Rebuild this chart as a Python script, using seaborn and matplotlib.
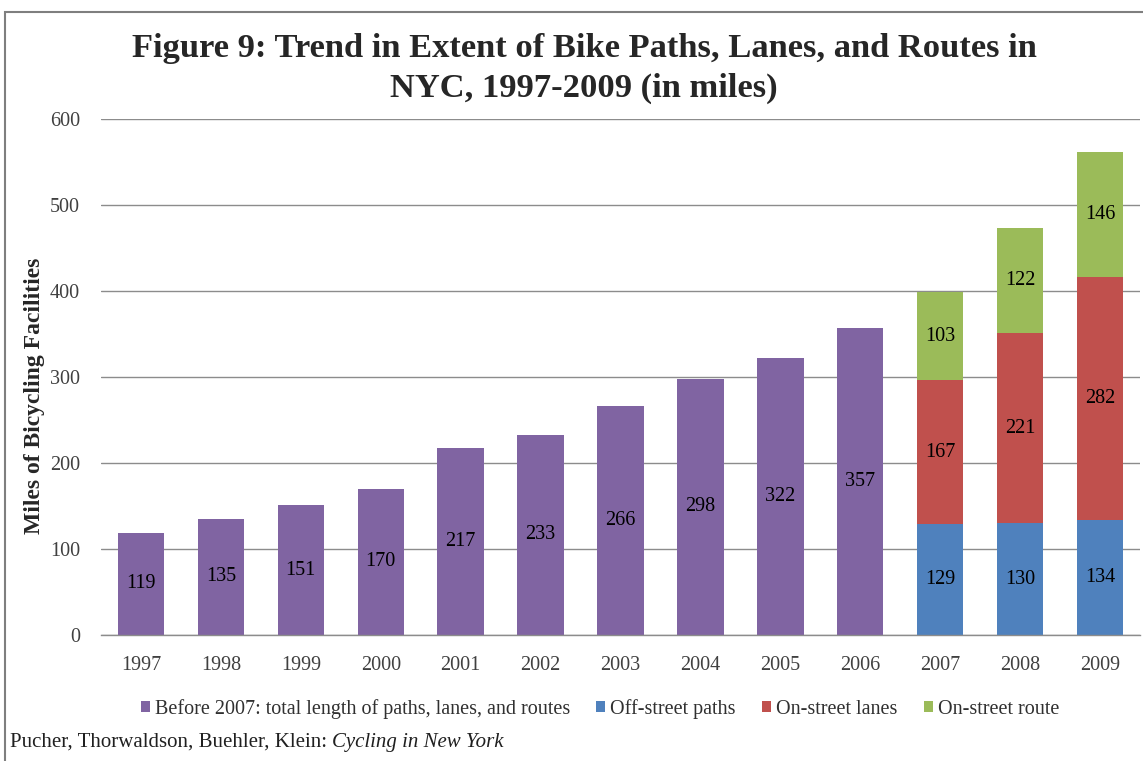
import matplotlib
matplotlib.use("Agg")
import matplotlib.pyplot as plt
import seaborn as sns
import pandas as pd
from matplotlib.patches import Rectangle

years = ["1997", "1998", "1999", "2000", "2001", "2002", "2003", "2004", "2005", "2006", "2007", "2008", "2009"]
before_2007 = [119, 135, 151, 170, 217, 233, 266, 298, 322, 357, None, None, None]
off_street = [None] * 10 + [129, 130, 134]
on_street_lanes = [None] * 10 + [167, 221, 282]
on_street_route = [None] * 10 + [103, 122, 146]

series_names = ["Before 2007: total length of paths, lanes, and routes",
                "Off-street paths", "On-street lanes", "On-street route"]
colors = ["#8064A2", "#4F81BD", "#C0504D", "#9BBB59"]

sns.set_theme(style="white")
plt.rcParams["font.family"] = ["Liberation Serif", "DejaVu Serif"]

fig = plt.figure(figsize=(11.43, 7.61), dpi=100)
W, H = 1143, 761
ax = fig.add_axes([101 / W, 1 - 635 / H, (1140 - 101) / W, (635 - 119) / H])

df = pd.DataFrame({
    "year": years,
    "before": [v if v is not None else 0 for v in before_2007],
    "off": [v if v is not None else 0 for v in off_street],
    "lanes": [v if v is not None else 0 for v in on_street_lanes],
    "route": [v if v is not None else 0 for v in on_street_route],
})
df["b_lanes"] = df["off"]
df["b_route"] = df["off"] + df["lanes"]

w = 0.58
kw = dict(width=w, ax=ax, saturation=1, linewidth=0, edgecolor="none")
sns.barplot(data=df, x="year", y="before", color=colors[0], label=series_names[0], **kw)
sns.barplot(data=df, x="year", y="off", color=colors[1], label=series_names[1], **kw)
sns.barplot(data=df, x="year", y="lanes", color=colors[2], bottom=df["b_lanes"].values,
            label=series_names[2], **kw)
sns.barplot(data=df, x="year", y="route", color=colors[3], bottom=df["b_route"].values,
            label=series_names[3], **kw)

fs = 14.5
# value labels
for i, y in enumerate(years):
    if before_2007[i] is not None:
        ax.text(i, before_2007[i] / 2, str(before_2007[i]), ha="center", va="center",
                fontsize=fs, color="black")
    if off_street[i] is not None:
        b = 0
        for v in (off_street[i], on_street_lanes[i], on_street_route[i]):
            ax.text(i, b + v / 2, str(v), ha="center", va="center", fontsize=fs, color="black")
            b += v

ax.set_ylim(0, 600)
ax.set_xlim(-0.5, len(years) - 0.5)
ax.set_yticks(range(0, 601, 100))
ax.yaxis.grid(True, color="#8c8c8c", linewidth=1)
ax.set_axisbelow(True)
for s in ["top", "right", "left"]:
    ax.spines[s].set_visible(False)
ax.spines["bottom"].set_color("#8c8c8c")
ax.spines["bottom"].set_linewidth(1)
ax.tick_params(axis="y", length=0, labelsize=fs, labelcolor="#404040", pad=15)
ax.tick_params(axis="x", length=0, labelsize=fs, labelcolor="#404040", pad=15)
ax.set_xlabel("")
ax.set_ylabel("")
fig.text(35 / W, 1 - 396 / H, "Miles of Bicycling Facilities", rotation=90,
         ha="center", va="center", fontsize=17, fontweight="bold")

leg = ax.legend(loc="center", bbox_to_anchor=(600 / W, 1 - 709 / H), bbox_transform=fig.transFigure,
                ncol=4, frameon=False, fontsize=fs, handlelength=0.45, handleheight=0.45,
                handletextpad=0.25, columnspacing=1.3, labelcolor="#303030")

fig.text(584 / W, 1 - 48 / H, "Figure 9: Trend in Extent of Bike Paths, Lanes, and Routes in",
         ha="center", va="center", fontsize=24.8, fontweight="bold")
fig.text(584 / W, 1 - 88 / H, "NYC, 1997-2009 (in miles)",
         ha="center", va="center", fontsize=24.8, fontweight="bold")

t1 = fig.text(10 / W, 1 - 742 / H, "Pucher, Thorwaldson, Buehler, Klein: ", ha="left", va="center",
              fontsize=15, color="#202020")
fig.canvas.draw()
bb = t1.get_window_extent()
fig.text(bb.x1 / W, 1 - 742 / H, "Cycling in New York", ha="left", va="center",
         fontsize=15, style="italic", color="#202020")

# chart frame
fig.add_artist(Rectangle((5 / W, -0.1), 1.2, 1 - 12 / H + 0.1, transform=fig.transFigure,
                         fill=False, edgecolor="#7f7f7f", linewidth=1.5))

fig.savefig("out.png", dpi=100)
